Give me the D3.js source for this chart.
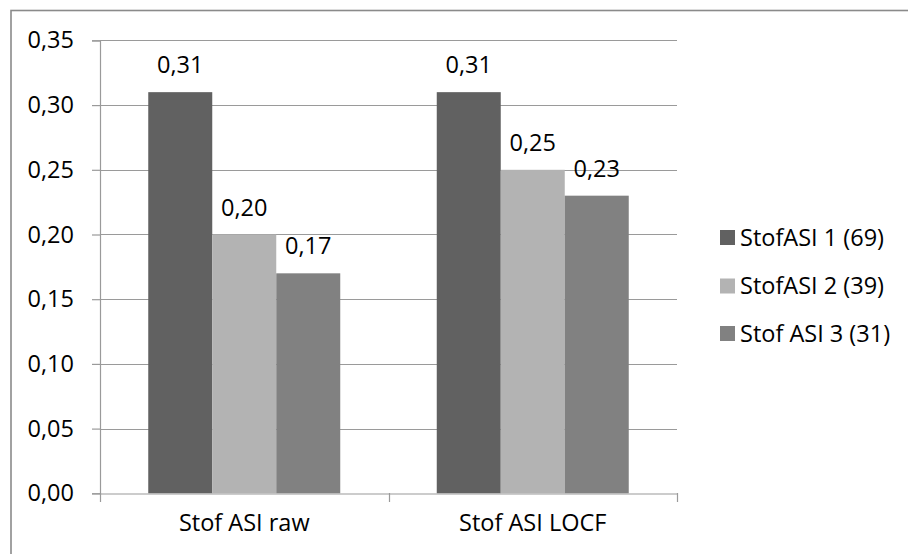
<!DOCTYPE html>
<html>
<head>
<meta charset="utf-8">
<script src="https://cdn.jsdelivr.net/npm/d3@7"></script>
<style>
  html, body { margin: 0; padding: 0; background: #fff; }
  svg { display: block; }
  text { font-family: "Open Sans", "Noto Sans", sans-serif; fill: #000; }
</style>
</head>
<body>
<svg id="chart" width="908" height="554"></svg>
<script>
// Measures and groups
const categories = ["Stof ASI raw", "Stof ASI LOCF"];
const seriesNames = ["StofASI 1 (69)", "StofASI 2 (39)", "Stof ASI 3 (31)"];
const stofAsi1 = [0.31, 0.31];
const stofAsi2 = [0.20, 0.25];
const stofAsi3 = [0.17, 0.23];
const yTicks = [0, 0.05, 0.10, 0.15, 0.20, 0.25, 0.30, 0.35];
const seriesColors = ["#616161", "#b3b3b3", "#818181"];

const values = [stofAsi1, stofAsi2, stofAsi3];

const svg = d3.select("#chart");
const W = 908, H = 554;
const FS = 23.5;

const plot = { left: 100, right: 677, top: 40.4, bottom: 493.3 };

const locale = d3.formatLocale({ decimal: ",", thousands: ".", grouping: [3], currency: ["", "€"] });
const fmt = locale.format(".2f");

// Outer chart frame (runs past the right and bottom edges)
svg.append("rect")
  .attr("x", 11).attr("y", 10.5)
  .attr("width", W + 20).attr("height", H + 20)
  .attr("fill", "#fff")
  .attr("stroke", "#8a8a8a").attr("stroke-width", 1.6);

const y = d3.scaleLinear().domain([0, 0.35]).range([plot.bottom, plot.top]);
const x0 = d3.scaleBand().domain(categories).range([plot.left, plot.right]).paddingInner(0).paddingOuter(0);
const x1 = d3.scaleBand().domain(d3.range(seriesNames.length)).range([0, x0.bandwidth()]).paddingInner(0).paddingOuter(0.754);

// Gridlines
svg.append("g")
  .selectAll("line")
  .data(yTicks.filter(t => t > 0))
  .join("line")
  .attr("x1", plot.left).attr("x2", plot.right)
  .attr("y1", d => Math.round(y(d)) + 0.5).attr("y2", d => Math.round(y(d)) + 0.5)
  .attr("stroke", "#9a9a9a").attr("stroke-width", 1.2);

// Y axis
const yAxis = svg.append("g")
  .attr("transform", `translate(${plot.left},0)`)
  .call(d3.axisLeft(y).tickValues(yTicks).tickFormat(fmt).tickSize(8).tickPadding(18));
yAxis.select(".domain").attr("stroke", "#9a9a9a").attr("stroke-width", 1.2);
yAxis.selectAll(".tick line").attr("stroke", "#9a9a9a").attr("stroke-width", 1.2);
yAxis.selectAll(".tick text")
  .attr("font-family", "Open Sans, Noto Sans, sans-serif")
  .attr("font-size", FS).attr("fill", "#000");

// Bars
const groups = svg.append("g")
  .selectAll("g")
  .data(categories)
  .join("g")
  .attr("transform", d => `translate(${x0(d)},0)`);

groups.selectAll("rect")
  .data((c, ci) => values.map((arr, si) => ({ si, v: arr[ci] })))
  .join("rect")
  .attr("x", d => x1(d.si))
  .attr("width", x1.bandwidth())
  .attr("y", d => y(d.v))
  .attr("height", d => y(0) - y(d.v))
  .attr("fill", d => seriesColors[d.si]);

// X axis
const xAxis = svg.append("g")
  .attr("transform", `translate(0,${Math.round(plot.bottom) + 0.5})`)
  .call(d3.axisBottom(x0).tickSize(0).tickPadding(21));
xAxis.select(".domain").attr("stroke", "#9a9a9a").attr("stroke-width", 1.2);
xAxis.selectAll(".tick text")
  .attr("font-family", "Open Sans, Noto Sans, sans-serif")
  .attr("font-size", FS).attr("fill", "#000");

// Category separator ticks
svg.append("g")
  .selectAll("line")
  .data([plot.left, x0(categories[1]), plot.right])
  .join("line")
  .attr("x1", d => Math.round(d) + 0.5).attr("x2", d => Math.round(d) + 0.5)
  .attr("y1", Math.round(plot.bottom)).attr("y2", Math.round(plot.bottom) + 9)
  .attr("stroke", "#9a9a9a").attr("stroke-width", 1.2);

// Value labels
groups.selectAll("text.val")
  .data((c, ci) => values.map((arr, si) => ({ si, v: arr[ci] })))
  .join("text")
  .attr("class", "val")
  .attr("x", d => x1(d.si) + x1.bandwidth() / 2)
  .attr("y", d => y(d.v) - 19)
  .attr("text-anchor", "middle")
  .attr("font-size", FS)
  .text(d => fmt(d.v));

// Legend
const legend = svg.append("g").attr("transform", "translate(720,0)");
const legendY = [237.5, 286, 333.5];
const items = legend.selectAll("g")
  .data(seriesNames)
  .join("g")
  .attr("transform", (d, i) => `translate(0,${legendY[i]})`);
items.append("rect")
  .attr("x", 0).attr("y", -7.5)
  .attr("width", 15).attr("height", 15)
  .attr("fill", (d, i) => seriesColors[i]);
items.append("text")
  .attr("x", 20).attr("y", 0)
  .attr("dy", "0.35em")
  .attr("font-size", FS)
  .text(d => d);
</script>
</body>
</html>
